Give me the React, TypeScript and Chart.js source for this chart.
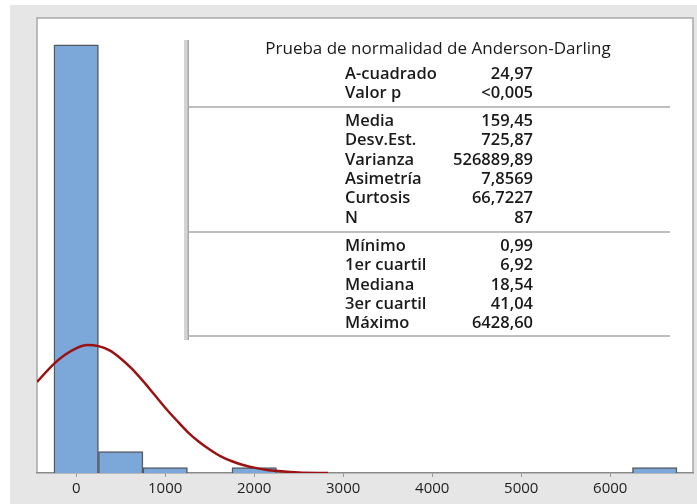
import React, { useEffect, useRef } from "react";
import { Chart, registerables } from "chart.js";

Chart.register(...registerables);

// Histogram bins (bin width 500)
const binCenters = [0, 500, 1000, 2000, 6500];
const binCounts = [80, 4, 1, 1, 1];

// Fitted normal curve
const curveX = [-440, -250, -125, 0, 125, 250, 375, 500, 625, 750, 875, 1000, 1125, 1250, 1375, 1500, 1625, 1750, 1875, 2000, 2125, 2250, 2500, 2830];
const curveY = [17.0, 20.4, 22.1, 23.3, 23.9, 23.7, 22.9, 21.4, 19.5, 17.2, 14.7, 12.2, 9.9, 7.7, 5.9, 4.4, 3.1, 2.2, 1.5, 1.0, 0.6, 0.4, 0.1, 0.0];

const xTicks = [0, 1000, 2000, 3000, 4000, 5000, 6000];

const tableTitle = "Prueba de normalidad de Anderson-Darling";
const group1Labels = ["A-cuadrado", "Valor p"];
const group1Values = ["24,97", "<0,005"];
const group2Labels = ["Media", "Desv.Est.", "Varianza", "Asimetría", "Curtosis", "N"];
const group2Values = ["159,45", "725,87", "526889,89", "7,8569", "66,7227", "87"];
const group3Labels = ["Mínimo", "1er cuartil", "Mediana", "3er cuartil", "Máximo"];
const group3Values = ["0,99", "6,92", "18,54", "41,04", "6428,60"];

const FONT = "'Open Sans', 'Noto Sans', sans-serif";

const backgroundPlugin = {
  id: "bgPanel",
  beforeDraw(chart: any) {
    const { ctx, chartArea } = chart;
    const W = chart.width;
    const H = chart.height;
    ctx.save();
    ctx.fillStyle = "#ffffff";
    ctx.fillRect(0, 0, W, H);
    ctx.fillStyle = "#e6e6e6";
    ctx.fillRect(10, 5, W - 10, H - 5);
    ctx.fillStyle = "#ffffff";
    ctx.fillRect(chartArea.left, chartArea.top, chartArea.right - chartArea.left, chartArea.bottom - chartArea.top);
    ctx.strokeStyle = "#a8a8a8";
    ctx.lineWidth = 1.5;
    ctx.beginPath();
    ctx.moveTo(chartArea.left, chartArea.bottom);
    ctx.lineTo(chartArea.left, chartArea.top);
    ctx.lineTo(chartArea.right, chartArea.top);
    ctx.lineTo(chartArea.right, chartArea.bottom);
    ctx.stroke();
    ctx.restore();
  },
};

const statsPlugin = {
  id: "statsTable",
  afterDraw(chart: any) {
    const { ctx } = chart;
    ctx.save();
    // vertical separator
    ctx.fillStyle = "#d4d4d4";
    ctx.fillRect(184, 40, 5, 300);
    ctx.fillStyle = "#a8a8a8";
    ctx.fillRect(187.5, 40, 1.5, 300);
    // horizontal rules
    ctx.strokeStyle = "#a8a8a8";
    ctx.lineWidth = 1.5;
    [107, 232, 336].forEach((y) => {
      ctx.beginPath();
      ctx.moveTo(189, y);
      ctx.lineTo(670, y);
      ctx.stroke();
    });
    ctx.fillStyle = "#1a1a1a";
    ctx.textBaseline = "middle";
    ctx.font = `17px ${FONT}`;
    ctx.textAlign = "center";
    ctx.fillText(tableTitle, 438, 49);

    const labelX = 345;
    const valueX = 533;
    const drawGroup = (labels: string[], values: string[], y0: number) => {
      labels.forEach((l, i) => {
        const y = y0 + i * 19.4;
        ctx.font = `600 16.5px ${FONT}`;
        ctx.textAlign = "left";
        ctx.fillText(l, labelX, y);
        ctx.textAlign = "right";
        ctx.fillText(values[i], valueX, y);
      });
    };
    drawGroup(group1Labels, group1Values, 74);
    drawGroup(group2Labels, group2Values, 121);
    drawGroup(group3Labels, group3Values, 246);
    ctx.restore();
  },
};

export default function App() {
  const ref = useRef<HTMLCanvasElement | null>(null);
  useEffect(() => {
    document.body.style.margin = "0";
    const canvas = ref.current!;
    const chart = new Chart(canvas, {
      type: "bar",
      data: {
        datasets: [
          {
            type: "line",
            data: curveX.map((x, i) => ({ x, y: curveY[i] })),
            borderColor: "#9a1212",
            borderWidth: 2.5,
            pointRadius: 0,
            cubicInterpolationMode: "monotone",
            fill: false,
            order: 0,
          } as any,
          {
            type: "bar",
            data: binCenters.map((x, i) => ({ x, y: binCounts[i] })),
            backgroundColor: "#7ba7d9",
            borderColor: "#555a60",
            borderWidth: 1.5,
            borderSkipped: "bottom",
            barPercentage: 1,
            categoryPercentage: 1,
            order: 1,
          } as any,
        ],
      },
      plugins: [backgroundPlugin, statsPlugin],
      options: {
        responsive: false,
        animation: false,
        layout: { padding: { left: 37, top: 18, right: 4, bottom: 0 } },
        plugins: { legend: { display: false }, tooltip: { enabled: false } },
        scales: {
          x: {
            type: "linear",
            min: -440,
            max: 6930,
            offset: false,
            grid: {
              display: true,
              offset: false,
              drawOnChartArea: false,
              drawTicks: true,
              tickLength: 4,
              color: "#9a9a9a",
            },
            border: { display: true, color: "#8a8a8a", width: 1.5 },
            ticks: {
              color: "#1e1e1e",
              font: { family: FONT, size: 15 },
              padding: 3,
              maxRotation: 0,
              callback: (v: any) => String(v),
            },
            afterBuildTicks: (scale: any) => {
              scale.ticks = xTicks.map((v) => ({ value: v }));
            },
            afterFit: (scale: any) => {
              scale.height = 31;
            },
          },
          y: {
            display: false,
            min: 0,
            max: 85,
          },
        },
      },
    } as any);
    return () => chart.destroy();
  }, []);
  return <canvas ref={ref} width={697} height={504} style={{ display: "block" }} />;
}
